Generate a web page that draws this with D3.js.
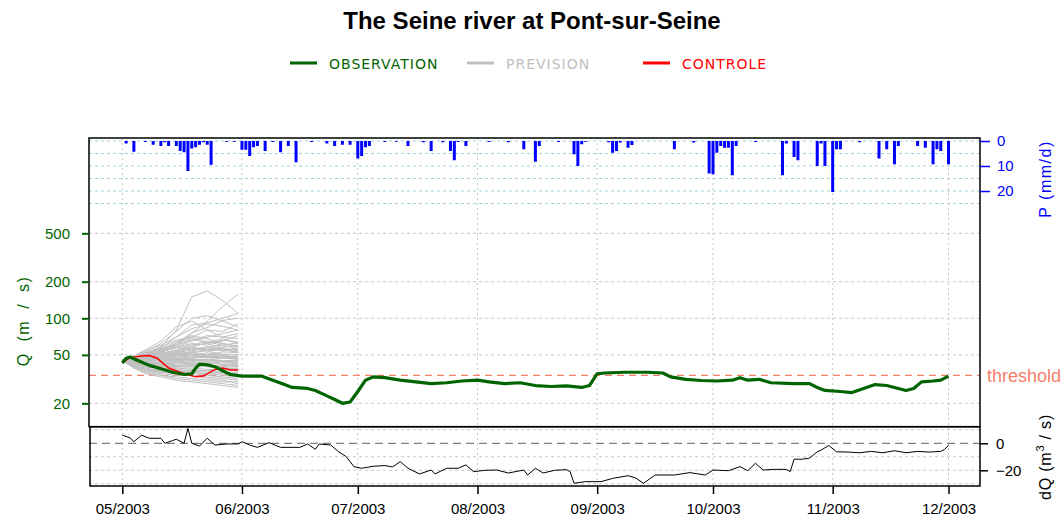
<!DOCTYPE html>
<html><head><meta charset="utf-8">
<script src="https://cdn.jsdelivr.net/npm/d3@7"></script>
<style>body{margin:0;background:#fff}svg{display:block}</style>
</head><body>
<svg id="chart" width="1064" height="518"></svg>
<script>
// ---------- DATA ----------
const titleText = "The Seine river at Pont-sur-Seine";
const monthTicks = ["2003-05-01","2003-06-01","2003-07-01","2003-08-01","2003-09-01","2003-10-01","2003-11-01","2003-12-01"];
const qTicks = [20, 50, 100, 200, 500];
const pTicks = [0, 10, 20];
const pGrid = [0, 5, 10, 15, 20, 25];
const dqTicks = [0, -20];
const dqGrid = [10, -10, -20, -30];
const threshold = 34;

const obsDates = ["2003-05-01","2003-05-02","2003-05-03","2003-05-05","2003-05-08","2003-05-11","2003-05-14","2003-05-17","2003-05-19","2003-05-20","2003-05-21","2003-05-23","2003-05-25","2003-05-27","2003-05-29","2003-06-01","2003-06-06","2003-06-09","2003-06-12","2003-06-14","2003-06-18","2003-06-20","2003-06-23","2003-06-25","2003-06-27","2003-06-29","2003-07-01","2003-07-03","2003-07-05","2003-07-08","2003-07-12","2003-07-16","2003-07-20","2003-07-24","2003-07-28","2003-08-01","2003-08-04","2003-08-08","2003-08-12","2003-08-16","2003-08-20","2003-08-24","2003-08-28","2003-08-30","2003-09-01","2003-09-03","2003-09-08","2003-09-14","2003-09-18","2003-09-20","2003-09-24","2003-09-28","2003-10-02","2003-10-06","2003-10-08","2003-10-10","2003-10-13","2003-10-16","2003-10-22","2003-10-26","2003-10-28","2003-10-30","2003-11-03","2003-11-06","2003-11-09","2003-11-12","2003-11-15","2003-11-18","2003-11-20","2003-11-22","2003-11-24","2003-11-27","2003-11-29","2003-12-01"];
const obsValues = [43,47,48,45,41,38.5,36,34.5,35,39,42,41.5,40,37,34.5,33.5,33.5,31,28.5,27,26.5,25.5,23,21.5,20,20.5,25,31,33,32.5,31,30,29,29.5,30.5,31,30,29,29.5,28,27.5,27.8,27,28,35,35.5,36,36,35.5,33,31.5,30.8,30.5,31,32.5,31,31.5,29.5,29,29,27,25.5,25,24.5,26.5,28.5,28,26.5,25.5,26.5,30,30.5,31,33.5];

const ctrlDates = ["2003-05-01","2003-05-03","2003-05-06","2003-05-08","2003-05-10","2003-05-13","2003-05-17","2003-05-20","2003-05-22","2003-05-25","2003-05-27","2003-05-29","2003-05-31"];
const ctrlValues = [43,47.5,49,49.5,47,39,35,33,33.5,38,39,37.6,37.6];

const prevDates = ["2003-05-01","2003-05-04","2003-05-07","2003-05-11","2003-05-15","2003-05-19","2003-05-23","2003-05-27","2003-05-31"];
const prevMembers = [
 [45,47,50,58,80,150,168,140,110],
 [45,46,48,52,60,75,95,125,158],
 [45,48,53,62,78,100,105,95,85],
 [45,47,51,57,70,88,92,100,110],
 [45,49,55,65,85,95,80,70,75],
 [45,46,50,55,62,70,80,78,90],
 [45,48,52,56,60,66,72,70,68],
 [45,47,50,54,58,62,60,65,72],
 [45,46,48,50,55,58,63,68,62],
 [45,47,49,52,54,57,55,58,60],
 [45,45,47,50,52,55,57,54,57],
 [45,46,47,49,51,53,55,56,55],
 [45,44,46,48,50,52,50,53,52],
 [45,45,46,47,49,50,52,50,50],
 [45,44,45,46,48,49,48,49,48],
 [45,44,44,45,46,47,48,47,46],
 [45,43,43,44,45,46,46,45,45],
 [45,43,42,43,44,45,44,44,43],
 [45,42,41,42,43,43,43,42,42],
 [45,42,40,41,41,42,41,41,40],
 [45,41,39,40,40,40,40,39,38],
 [45,41,38,38,39,39,38,38,37],
 [45,40,38,37,37,37,37,36,35],
 [45,40,37,36,36,35,35,34,33],
 [45,40,37,35,34,34,33,32,31],
 [45,39,36,34,33,32,31,30,30],
 [45,39,36,34,32,31,30,29,28],
 [45,39,35,33,31,30,29,28,27],
 [45,46,50,56,64,72,68,62,58],
 [45,47,51,55,58,65,70,75,80],
 [45,46,49,53,57,60,62,66,64],
 [45,48,52,58,66,70,64,60,56],
 [45,46,48,51,55,60,65,62,59],
 [45,44,46,49,53,56,58,60,63],
 [45,45,47,50,53,52,54,55,53],
 [45,43,44,46,47,48,50,51,50],
 [45,42,42,44,46,45,46,47,48],
 [45,44,45,47,52,58,54,50,47],
 [45,47,49,53,60,68,62,57,54],
 [45,45,46,48,50,51,49,48,46],
 [45,44,43,42,41,40,42,44,45],
 [45,43,41,40,39,38,37,38,39],
 [45,42,40,39,38,37,36,36,36],
 [45,41,39,37,36,36,34,33,32],
 [45,40,38,36,35,34,32,31,29],
 [45,43,42,41,42,44,46,44,42],
 [45,44,44,46,45,43,41,40,41],
 [45,46,47,48,47,46,45,44,44],
 [45,45,44,43,44,47,50,49,47],
 [45,46,46,47,49,54,58,56,52],
 [45,47,48,50,51,50,48,47,49],
 [45,42,41,41,40,41,43,42,41],
 [45,43,42,42,43,42,40,39,39],
 [45,41,40,39,37,36,35,35,34],
 [45,48,54,60,70,82,90,86,80],
 [45,46,49,54,62,76,84,96,100]
];

const precipDates = ["2003-05-02","2003-05-04","2003-05-07","2003-05-09","2003-05-11","2003-05-12","2003-05-13","2003-05-15","2003-05-16","2003-05-17","2003-05-18","2003-05-19","2003-05-20","2003-05-21","2003-05-22","2003-05-23","2003-05-24","2003-05-28","2003-05-30","2003-06-01","2003-06-02","2003-06-03","2003-06-04","2003-06-05","2003-06-07","2003-06-09","2003-06-11","2003-06-13","2003-06-15","2003-06-19","2003-06-23","2003-06-25","2003-06-27","2003-06-29","2003-07-01","2003-07-02","2003-07-03","2003-07-04","2003-07-08","2003-07-11","2003-07-14","2003-07-18","2003-07-20","2003-07-23","2003-07-25","2003-07-26","2003-07-27","2003-07-29","2003-08-04","2003-08-09","2003-08-13","2003-08-16","2003-08-17","2003-08-22","2003-08-26","2003-08-27","2003-08-28","2003-08-29","2003-09-04","2003-09-05","2003-09-06","2003-09-07","2003-09-09","2003-09-10","2003-09-21","2003-09-26","2003-09-30","2003-10-01","2003-10-02","2003-10-03","2003-10-04","2003-10-05","2003-10-06","2003-10-07","2003-10-12","2003-10-19","2003-10-20","2003-10-22","2003-10-23","2003-10-28","2003-10-29","2003-10-30","2003-11-01","2003-11-02","2003-11-03","2003-11-08","2003-11-13","2003-11-15","2003-11-17","2003-11-18","2003-11-23","2003-11-25","2003-11-27","2003-11-28","2003-11-29","2003-12-01"];
const precipValues = [1,4.3,0.4,1.5,2,0.5,2,2,4,4.5,12,3,2.5,1.5,0.5,1.5,9.5,0.3,0.3,3.5,3.5,6,2.5,2,4,0.4,4.5,2,8.5,0.4,1,2,1.5,1.5,7,6,2.5,2,0.4,0.3,2,0.5,4,0.5,4,7.7,0.4,2,0.4,0.5,3.3,8.3,2,0.4,5.3,10,1.3,0.3,0.5,4.7,4,0.6,2.7,1.6,3.3,0.6,13,13.3,4.7,2,2.7,2.7,13.7,2,0.4,13.7,1,6.4,7.7,10,1,10,20.4,3.3,3.3,0.5,7,3.3,9.3,2,2,2.7,9.3,3.3,4,9.3];

const dqDates = ["2003-05-01","2003-05-03","2003-05-04","2003-05-06","2003-05-08","2003-05-11","2003-05-12","2003-05-14","2003-05-15","2003-05-17","2003-05-18","2003-05-19","2003-05-21","2003-05-23","2003-05-25","2003-05-28","2003-05-31","2003-06-01","2003-06-03","2003-06-05","2003-06-08","2003-06-11","2003-06-16","2003-06-18","2003-06-20","2003-06-21","2003-06-24","2003-06-26","2003-06-28","2003-06-30","2003-07-02","2003-07-05","2003-07-08","2003-07-10","2003-07-12","2003-07-14","2003-07-17","2003-07-20","2003-07-21","2003-07-24","2003-07-27","2003-07-29","2003-07-31","2003-08-03","2003-08-06","2003-08-09","2003-08-13","2003-08-14","2003-08-16","2003-08-18","2003-08-21","2003-08-24","2003-08-25","2003-08-26","2003-08-29","2003-09-02","2003-09-05","2003-09-09","2003-09-11","2003-09-13","2003-09-16","2003-09-21","2003-09-25","2003-09-29","2003-10-01","2003-10-05","2003-10-08","2003-10-10","2003-10-12","2003-10-14","2003-10-17","2003-10-20","2003-10-21","2003-10-22","2003-10-24","2003-10-26","2003-10-28","2003-10-29","2003-10-31","2003-11-02","2003-11-05","2003-11-08","2003-11-11","2003-11-14","2003-11-17","2003-11-20","2003-11-23","2003-11-26","2003-11-29","2003-11-30","2003-12-01"];
const dqValues = [6,4,1.2,6,3.7,3.7,0,2,3,0,11,0,-2,3.7,-1.3,-0.5,-0.5,1.2,-1.3,-3,0.5,-3,-3,-0.5,-4.4,-0.5,-1.3,-6.2,-9.9,-17.3,-18.5,-17,-16.5,-17.5,-13.6,-18.5,-22.7,-19.8,-22.7,-18.5,-18.5,-16,-21,-20,-19.8,-22,-19.8,-23.5,-18.5,-22,-20,-19.5,-21,-29.6,-28.4,-28.4,-26,-24,-25.7,-29.6,-23.5,-23.5,-21.7,-23.5,-19.8,-20.3,-17.3,-20.3,-14.8,-19.8,-19.3,-19.3,-21,-11.8,-11.8,-11,-6.3,-5,-1.6,-6.3,-6.5,-7,-6,-7,-5.5,-7,-6,-6.5,-6,-4.5,-1.5];

// ---------- LAYOUT ----------
const parse = d3.timeParse("%Y-%m-%d");
const svg = d3.select("#chart");
const L = 89, R = 980, T = 138, MID = 426.7, B = 486;
const GREEN = "#006400", BLUE = "#0000ff", RED = "#ff0000", GREY = "#c0c0c0", SALMON = "#f4806c";
const FONT = "'Liberation Sans', Arial, sans-serif";

const x = d3.scaleTime().domain([parse("2003-05-01"), parse("2003-12-01")]).range([122.3, 948.5]);
const yQ = d3.scaleLog().domain([20, 500]).range([403.3, 233.3]);
const yP = d3.scaleLinear().domain([0, 20]).range([141, 191]);
const yD = d3.scaleLinear().domain([0, -20]).range([443.3, 470.3]);

// title
svg.append("text").attr("x", 532).attr("y", 29).attr("text-anchor", "middle")
  .attr("font-family", FONT).attr("font-weight", "bold").attr("font-size", 24).text(titleText);

// legend
const legend = [
  {label: "OBSERVATION", color: GREEN, x1: 290, tx: 329},
  {label: "PREVISION", color: GREY, x1: 467, tx: 506},
  {label: "CONTROLE", color: RED, x1: 643, tx: 682}
];
legend.forEach(l => {
  svg.append("line").attr("x1", l.x1).attr("x2", l.x1 + 27).attr("y1", 63).attr("y2", 63)
    .attr("stroke", l.color).attr("stroke-width", 3);
  svg.append("text").attr("x", l.tx).attr("y", 69.3).attr("fill", l.color)
    .attr("font-family", "'DejaVu Sans', sans-serif").attr("font-size", 14)
    .attr("letter-spacing", 1).text(l.label);
});

// grids
const grid = svg.append("g");
monthTicks.forEach(m => {
  grid.append("line").attr("x1", x(parse(m))).attr("x2", x(parse(m))).attr("y1", T).attr("y2", B)
    .attr("stroke", "#c8c8c8").attr("stroke-width", 1).attr("stroke-dasharray", "2,3");
});
qTicks.forEach(v => {
  grid.append("line").attr("x1", L).attr("x2", R).attr("y1", yQ(v)).attr("y2", yQ(v))
    .attr("stroke", "#c8c8c8").attr("stroke-width", 1).attr("stroke-dasharray", "3,3");
});
pGrid.forEach(v => {
  grid.append("line").attr("x1", L).attr("x2", R).attr("y1", yP(v)).attr("y2", yP(v))
    .attr("stroke", "#9fd0df").attr("stroke-width", 1.2).attr("stroke-dasharray", "3,3");
});
dqGrid.forEach(v => {
  grid.append("line").attr("x1", L).attr("x2", R).attr("y1", yD(v)).attr("y2", yD(v))
    .attr("stroke", "#c8c8c8").attr("stroke-width", 1).attr("stroke-dasharray", "3,3");
});
grid.append("line").attr("x1", L).attr("x2", R).attr("y1", yD(0)).attr("y2", yD(0))
  .attr("stroke", "#808080").attr("stroke-width", 1.2).attr("stroke-dasharray", "8,5");

// precipitation bars
svg.append("g").selectAll("rect").data(precipDates.map((d, i) => ({d: parse(d), v: precipValues[i]})))
  .join("rect")
  .attr("x", d => x(d.d) - 1.5).attr("width", 3)
  .attr("y", yP(0)).attr("height", d => Math.max(0.8, yP(d.v) - yP(0)))
  .attr("fill", BLUE);

// threshold
svg.append("line").attr("x1", L).attr("x2", R).attr("y1", yQ(threshold)).attr("y2", yQ(threshold))
  .attr("stroke", SALMON).attr("stroke-width", 1.3).attr("stroke-dasharray", "7,5");
svg.append("text").attr("x", 987).attr("y", yQ(threshold) + 6.5).attr("fill", SALMON)
  .attr("font-family", FONT).attr("font-size", 18).text("threshold");

// ensemble
const lineQ = d3.line().x(d => x(d.d)).y(d => yQ(d.v));
const prevParsed = prevDates.map(parse);
svg.append("g").selectAll("path").data(prevMembers).join("path")
  .attr("d", m => lineQ(m.map((v, i) => ({d: prevParsed[i], v}))))
  .attr("fill", "none").attr("stroke", GREY).attr("stroke-width", 1);

// control
svg.append("path").attr("d", lineQ(ctrlDates.map((d, i) => ({d: parse(d), v: ctrlValues[i]}))))
  .attr("fill", "none").attr("stroke", RED).attr("stroke-width", 1.5);

// observation
svg.append("path").attr("d", lineQ(obsDates.map((d, i) => ({d: parse(d), v: obsValues[i]}))))
  .attr("fill", "none").attr("stroke", GREEN).attr("stroke-width", 3.2).attr("stroke-linejoin", "round");

// dQ line
const lineD = d3.line().x(d => x(d.d)).y(d => yD(d.v));
svg.append("path").attr("d", lineD(dqDates.map((d, i) => ({d: parse(d), v: dqValues[i]}))))
  .attr("fill", "none").attr("stroke", "#000").attr("stroke-width", 1);

// frames
const frame = svg.append("g").attr("fill", "none").attr("stroke", "#000").attr("stroke-width", 1.5);
frame.append("rect").attr("x", L).attr("y", T).attr("width", R - L).attr("height", MID - T);
frame.append("rect").attr("x", L + 1).attr("y", MID).attr("width", R - L - 1).attr("height", B - MID);

// left Q axis
const gQ = svg.append("g").attr("transform", `translate(${L},0)`)
  .call(d3.axisLeft(yQ).tickValues(qTicks).tickFormat(d3.format("d")).tickSize(7).tickPadding(12));
gQ.select(".domain").remove();
gQ.selectAll("line").attr("stroke", GREEN).attr("stroke-width", 2);
gQ.selectAll("text").attr("fill", GREEN).attr("font-family", FONT).attr("font-size", 15);

// right P axis
const gP = svg.append("g").attr("transform", `translate(${R},0)`)
  .call(d3.axisRight(yP).tickValues(pTicks).tickSize(10).tickPadding(7));
gP.select(".domain").remove();
gP.selectAll("line").attr("stroke", BLUE).attr("stroke-width", 1.5);
gP.selectAll("text").attr("fill", BLUE).attr("font-family", FONT).attr("font-size", 15);

// right dQ axis
const gD = svg.append("g").attr("transform", `translate(${R},0)`)
  .call(d3.axisRight(yD).tickValues(dqTicks).tickSize(8).tickPadding(8).tickFormat(d3.format("d")));
gD.select(".domain").remove();
gD.selectAll("line").attr("stroke", "#000").attr("stroke-width", 1.5);
gD.selectAll("text").attr("fill", "#000").attr("font-family", FONT).attr("font-size", 15);

// x axis
const gX = svg.append("g").attr("transform", `translate(0,${B})`)
  .call(d3.axisBottom(x).tickValues(monthTicks.map(parse)).tickFormat(d3.timeFormat("%m/%Y")).tickSize(8).tickPadding(9));
gX.select(".domain").remove();
gX.selectAll("line").attr("stroke", "#000").attr("stroke-width", 1.5);
gX.selectAll("text").attr("fill", "#000").attr("font-family", FONT).attr("font-size", 15);

// axis titles
svg.append("text").attr("transform", "translate(29,321) rotate(-90)").attr("text-anchor", "middle")
  .attr("fill", GREEN).attr("font-family", FONT).attr("font-size", 16).attr("letter-spacing", 1.5)
  .attr("word-spacing", 5).text("Q (m / s)");
svg.append("text").attr("transform", "translate(1051,179) rotate(-90)").attr("text-anchor", "middle")
  .attr("fill", BLUE).attr("font-family", FONT).attr("font-size", 16).attr("letter-spacing", 1.5).text("P (mm/d)");
const dqt = svg.append("text").attr("transform", "translate(1051,457) rotate(-90)").attr("text-anchor", "middle")
  .attr("fill", "#000").attr("font-family", FONT).attr("font-size", 16).attr("letter-spacing", 0.8);
dqt.append("tspan").text("dQ (m");
dqt.append("tspan").attr("dy", -7).attr("font-size", 11).text("3");
dqt.append("tspan").attr("dy", 7).text(" / s)");
</script>
</body></html>
